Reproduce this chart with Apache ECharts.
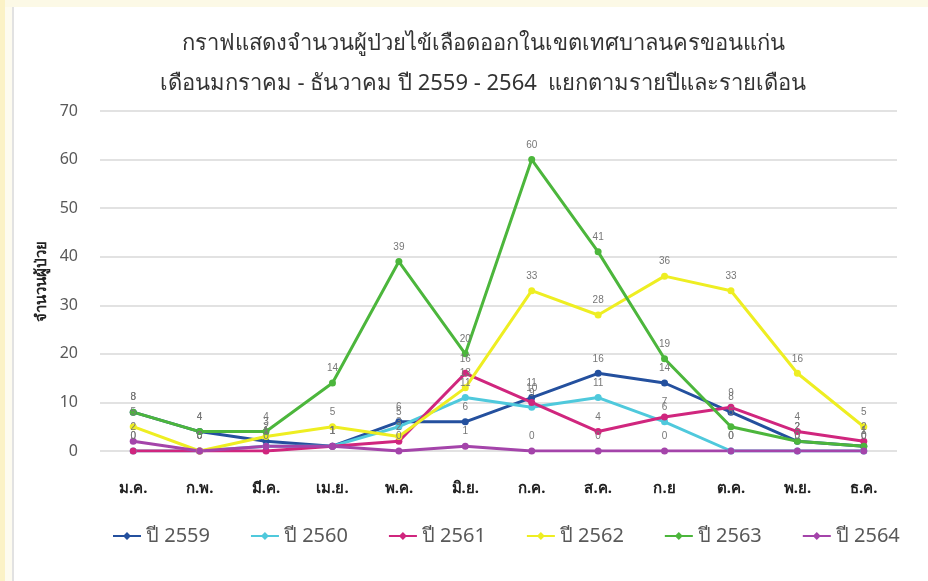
<!DOCTYPE html>
<html><head><meta charset="utf-8">
<script src="https://cdn.jsdelivr.net/npm/echarts@6/dist/echarts.min.js"></script>
<style>html,body{margin:0;padding:0;background:#fff}#c{width:928px;height:581px}</style>
</head><body><div id="c"></div>
<script>
const months = ['ม.ค.','ก.พ.','มี.ค.','เม.ย.','พ.ค.','มิ.ย.','ก.ค.','ส.ค.','ก.ย','ต.ค.','พ.ย.','ธ.ค.'];
const seriesNames = ['ปี 2559','ปี 2560','ปี 2561','ปี 2562','ปี 2563','ปี 2564'];
const y2559 = [8,4,2,1,6,6,11,16,14,8,2,1];
const y2560 = [0,0,1,1,5,11,9,11,6,0,0,0];
const y2561 = [0,0,0,1,2,16,10,4,7,9,4,2];
const y2562 = [5,0,3,5,3,13,33,28,36,33,16,5];
const y2563 = [8,4,4,14,39,20,60,41,19,5,2,1];
const y2564 = [2,0,1,1,0,1,0,0,0,0,0,0];
const colors = ['#24509e','#4fc9dc','#d0267e','#eeee22','#4cb63c','#a444aa'];
const allData = [y2559,y2560,y2561,y2562,y2563,y2564];

const chart = echarts.init(document.getElementById('c'));
chart.setOption({
  backgroundColor:'#ffffff',
  animation:false,
  graphic:[
    {type:'rect',shape:{x:0,y:0,width:928,height:7},style:{fill:'#fcf9e6'},silent:true},
    {type:'rect',shape:{x:0,y:0,width:5,height:581},style:{fill:'#fbf2c6'},silent:true},
    {type:'rect',shape:{x:5,y:7,width:8,height:574},style:{fill:'#fdfbef'},silent:true},
    {type:'rect',shape:{x:12,y:7,width:2,height:574},style:{fill:'#e2e2e2'},silent:true}
  ],
  title:{
    text:'กราฟแสดงจำนวนผู้ป่วยไข้เลือดออกในเขตเทศบาลนครขอนแก่น\nเดือนมกราคม - ธันวาคม ปี 2559 - 2564  แยกตามรายปีและรายเดือน',
    left:478, top:19, textAlign:'center',
    textStyle:{fontFamily:'Noto Sans, sans-serif',fontSize:22,fontWeight:'normal',color:'#333',lineHeight:40}
  },
  legend:{
    bottom:30, left:108, itemGap:41, itemWidth:28, itemHeight:10,
    icon:'path://M0,4 L11,4 L14,1 L17,4 L28,4 L28,6 L17,6 L14,9 L11,6 L0,6 Z',
    textStyle:{fontSize:20,color:'#595959',fontFamily:'Noto Sans, sans-serif'},
    data:seriesNames
  },
  grid:{left:100,right:31,top:111,bottom:130},
  xAxis:{
    type:'category', data:months, boundaryGap:true,
    axisLine:{show:false}, axisTick:{show:false},
    axisLabel:{fontSize:15,fontWeight:'bold',color:'#222',margin:30,fontFamily:'Noto Sans, sans-serif'}
  },
  yAxis:{
    type:'value', min:0, max:70, interval:10,
    name:'จำนวนผู้ป่วย', nameLocation:'middle', nameGap:50, nameRotate:90,
    nameTextStyle:{fontSize:15,fontWeight:'bold',color:'#222',fontFamily:'Noto Sans, sans-serif'},
    axisLine:{show:false}, axisTick:{show:false},
    axisLabel:{fontSize:16,color:'#595959',margin:22,fontFamily:'Noto Sans, sans-serif'},
    splitLine:{lineStyle:{color:'#d9d9d9',width:1.5}}
  },
  series: seriesNames.map((n,i)=>({
    name:n, type:'line', data:allData[i],
    symbol:'circle', symbolSize:7,
    lineStyle:{width:3,color:colors[i]},
    itemStyle:{color:colors[i]},
    label:{show:true,position:'top',fontSize:10,color:'#777',distance:6}
  }))
});
</script></body></html>
